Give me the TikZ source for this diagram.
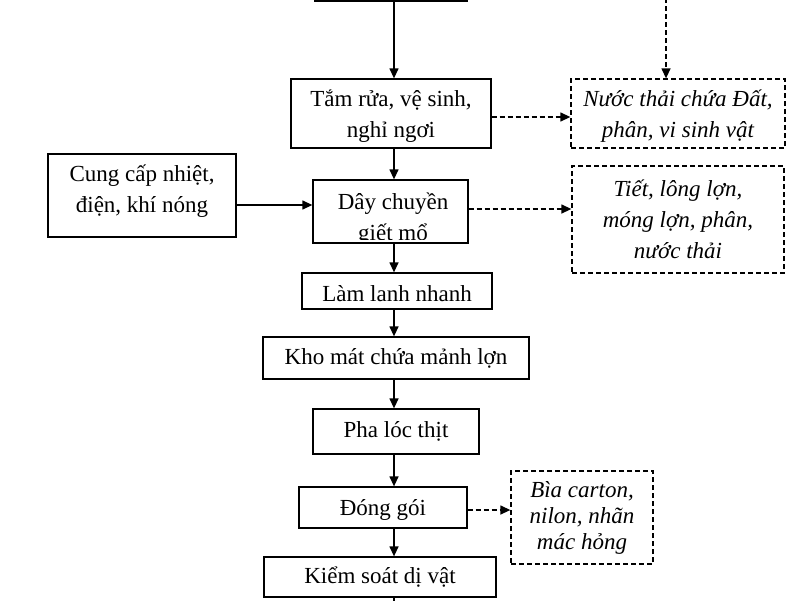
\documentclass[tikz,border=0pt]{standalone}
\usepackage{fontspec}
\setmainfont{Liberation Serif}
\usetikzlibrary{arrows.meta}
\tikzset{
  box/.style={draw, line width=1.3pt, inner sep=0pt, align=center,
    font=\fontsize{23}{31}\selectfont},
  dbox/.style={box, dash pattern=on 5pt off 3pt, font=\fontsize{23}{31}\selectfont\itshape},
  arr/.style={line width=1.3pt, -{Triangle[length=10pt,width=9pt]}},
  darr/.style={arr, dash pattern=on 5pt off 3pt},
}
\begin{document}
\begin{tikzpicture}[x=1pt,y=-1pt]
\useasboundingbox (0,0) rectangle (800,600);
\coordinate (ax) at (394,0);
% boxes
\node[box, minimum width=152pt, minimum height=41pt] (top) at (391,-19.5) {};
\node[box, minimum width=200pt, minimum height=69pt] (tam) at (391,113.5) {};
\node[box, draw=none] (tamt) at (391,116) {Tắm rửa, vệ sinh,\\nghỉ ngơi};
\node[dbox, minimum width=214pt, minimum height=69pt] (nuoc) at (678,113.5) {};
\node[dbox, draw=none] (nuoct) at (678,116) {Nước thải chứa Đất,\\phân, vi sinh vật};
\node[box, minimum width=188pt, minimum height=83pt] (cung) at (142,195.5) {};
\node[box, draw=none] (cungt) at (142,191) {Cung cấp nhiệt,\\điện, khí nóng};
\begin{scope}
  \clip (313,180) rectangle (468,239.5);
  \node[box, draw=none] (dayt) at (393,219) {Dây chuyền\\giết mổ};
\end{scope}
\node[box, minimum width=155pt, minimum height=63pt] (day) at (390.5,211.5) {};
\node[dbox, minimum width=212pt, minimum height=107pt] (tiet) at (678,219.5) {Tiết, lông lợn,\\móng lợn, phân,\\nước thải};
\node[box, minimum width=190pt, minimum height=36pt] (lam) at (397,291) {};
\node[box, draw=none] (lamt) at (397,294) {Làm lanh nhanh};
\node[box, minimum width=266pt, minimum height=42pt] (kho) at (396,358) {Kho mát chứa mảnh lợn};
\node[box, minimum width=166pt, minimum height=45pt] (pha) at (396,431.5) {Pha lóc thịt};
\node[box, minimum width=168pt, minimum height=41pt] (dong) at (383,507.5) {};
\node[box, draw=none] (dongt) at (383,509.5) {Đóng gói};
\node[dbox, minimum width=142pt, minimum height=93pt, font=\fontsize{23}{26}\selectfont\itshape] (bia) at (582,517.5) {Bìa carton,\\nilon, nhãn\\mác hỏng};
\node[box, minimum width=232pt, minimum height=40pt] (kiem) at (380,577) {Kiểm soát dị vật};
\coordinate (topd) at (666,-10);
\coordinate (below) at (394,630);
% connectors
\draw[arr] (top.south -| ax) -- (tam.north -| ax);
\draw[arr] (tam.south -| ax) -- (day.north -| ax);
\draw[arr] (day.south -| ax) -- (lam.north -| ax);
\draw[arr] (lam.south -| ax) -- (kho.north -| ax);
\draw[arr] (kho.south -| ax) -- (pha.north -| ax);
\draw[arr] (pha.south -| ax) -- (dong.north -| ax);
\draw[arr] (dong.south -| ax) -- (kiem.north -| ax);
\draw[line width=1.3pt] (kiem.south -| ax) -- (below);
\draw[darr] (topd) -- (nuoc.north -| topd);
\draw[darr] (tam.east |- 0,117) -- (nuoc.west |- 0,117);
\draw[arr] (cung.east |- 0,205) -- (day.west |- 0,205);
\draw[darr] (day.east |- 0,209) -- (tiet.west |- 0,209);
\draw[darr] (dong.east |- 0,510) -- (bia.west |- 0,510);
\end{tikzpicture}
\end{document}
